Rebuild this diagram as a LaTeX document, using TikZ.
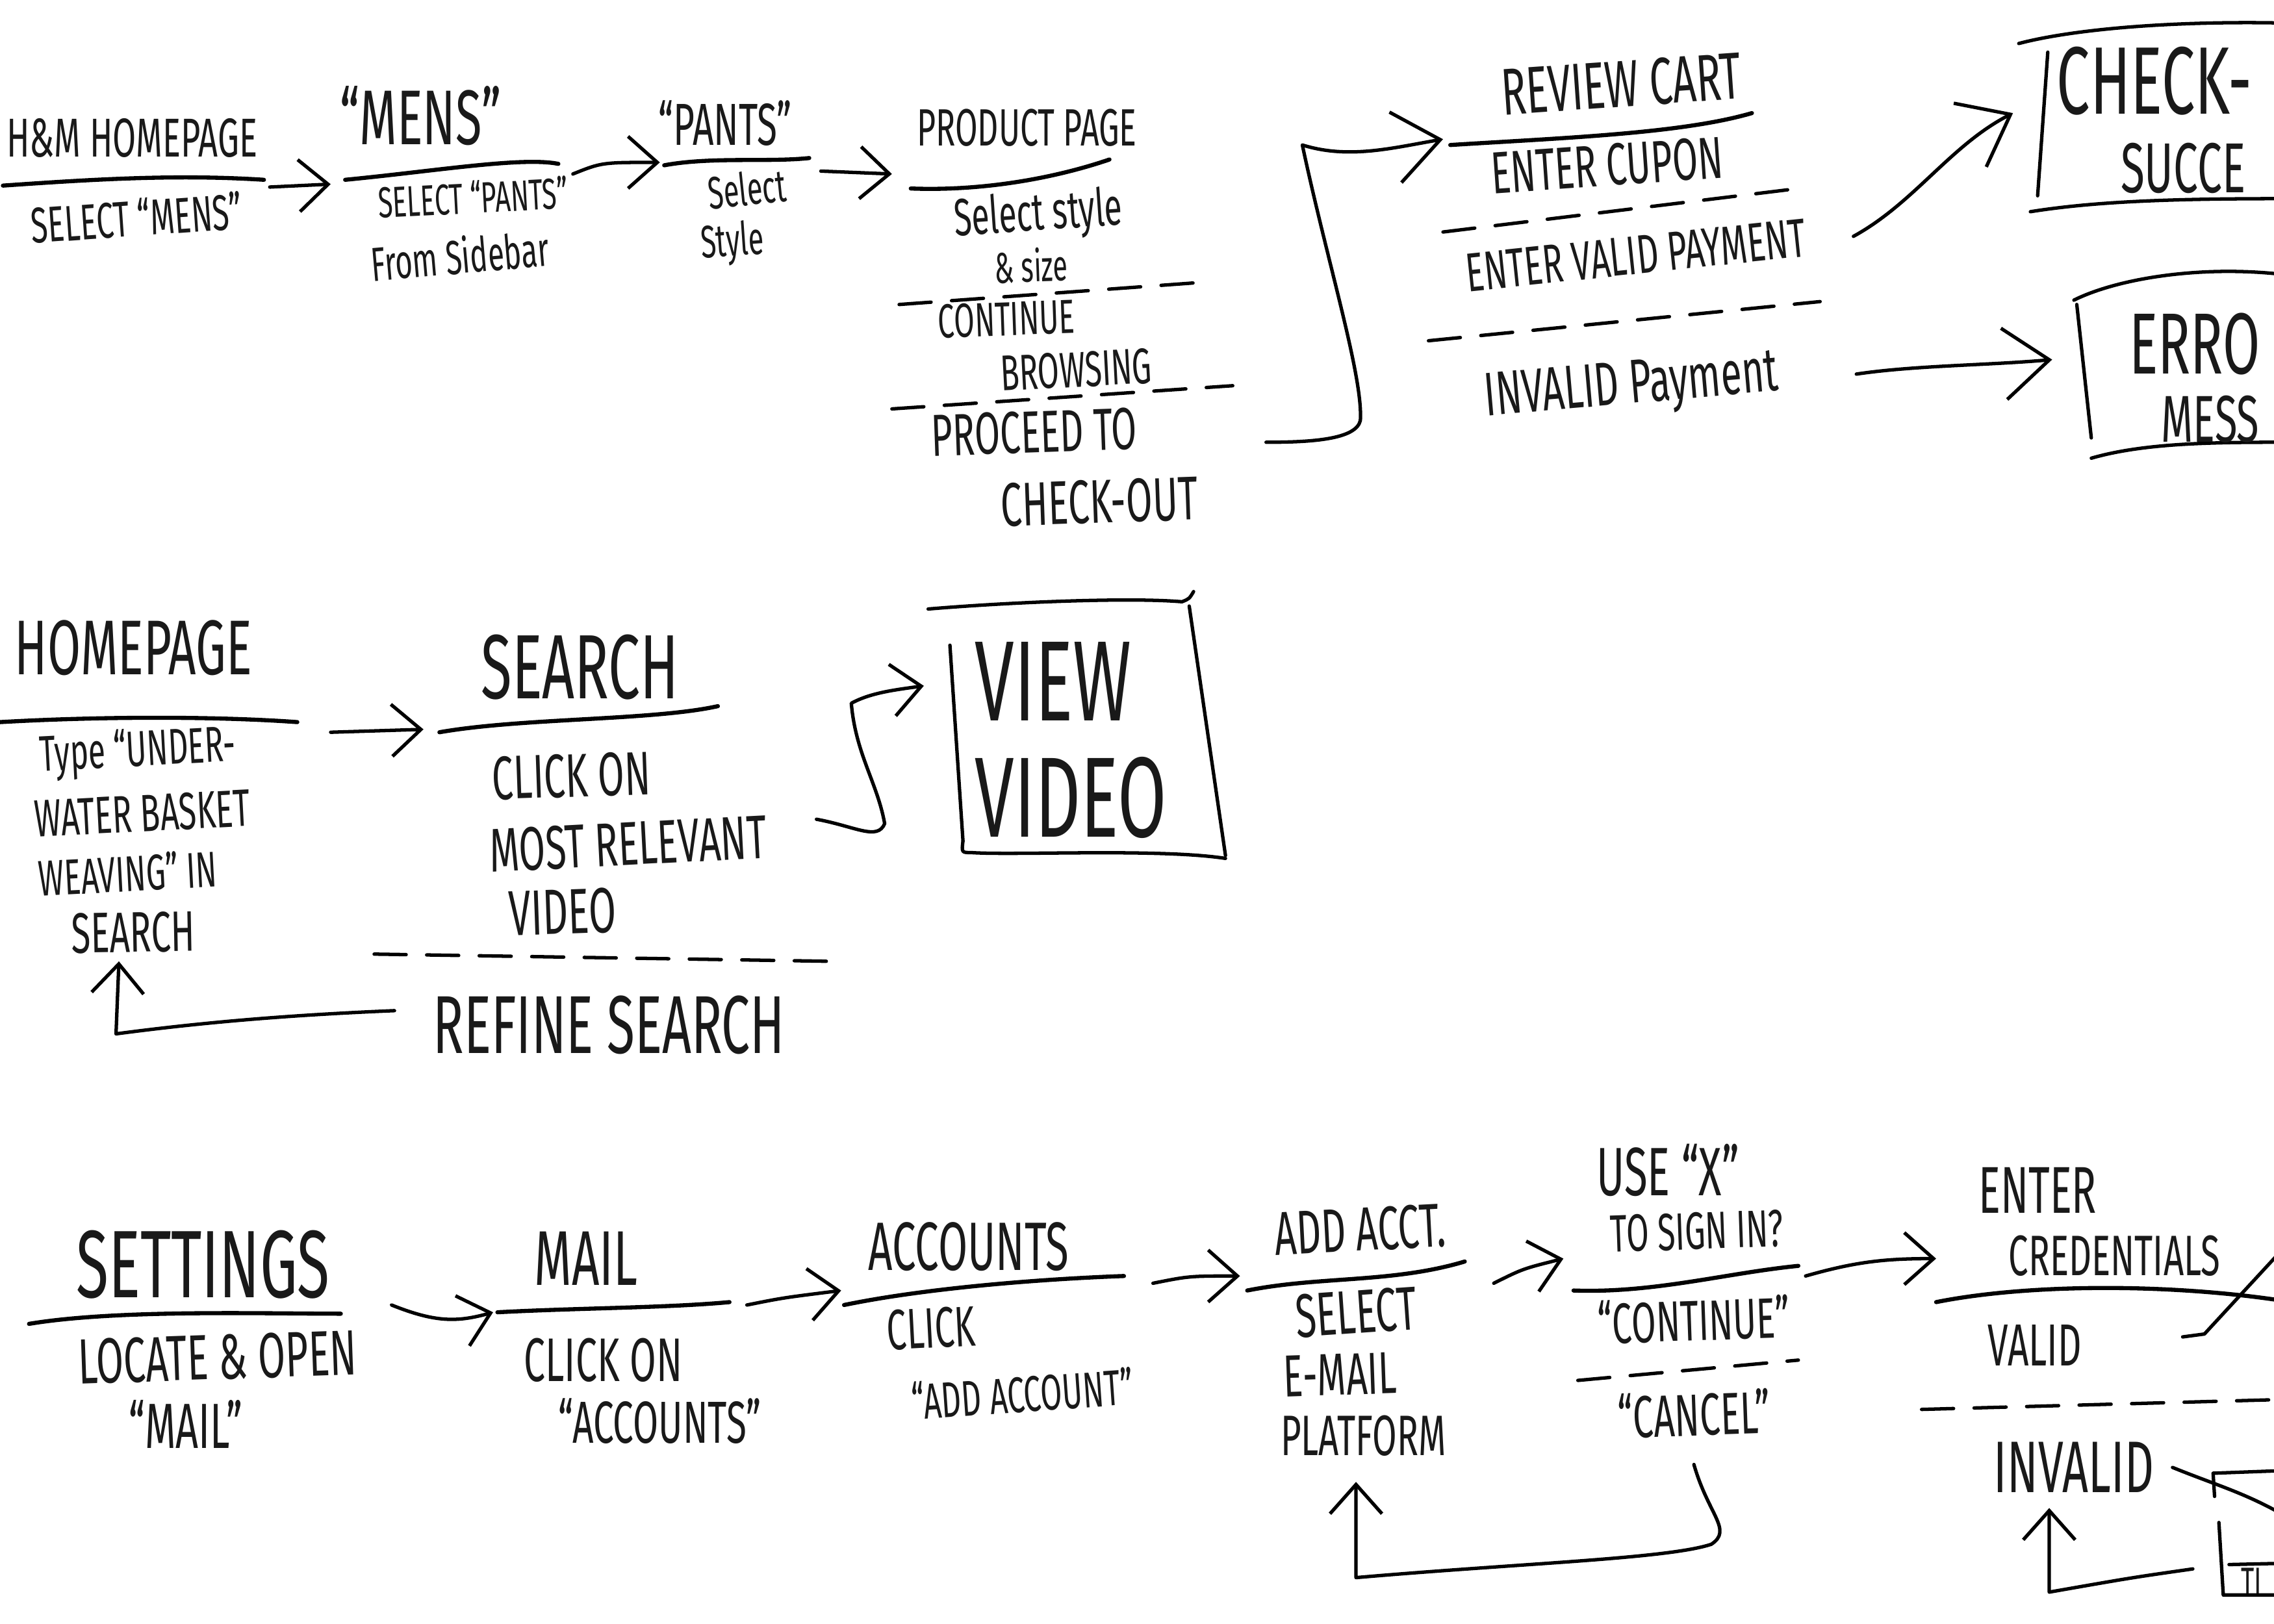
\documentclass[tikz,border=0pt]{standalone}
\usepackage{fontspec}
\setmainfont{Fira Sans}[FakeStretch=0.62]
\usetikzlibrary{arrows.meta}
\begin{document}
\begin{tikzpicture}[x=0.2232mm,y=-0.2232mm, line cap=round, line join=round,
  ink/.style={line width=1.5pt},
  uline/.style={line width=1.8pt},
  dline/.style={line width=1.5pt, dash pattern=on 14pt off 9pt},
  harr/.style={line width=1.5pt,-{Straight Barb[length=4.5mm,width=8mm]}},
  bigarr/.style={line width=1.5pt,-{Straight Barb[length=7mm,width=11mm]}},
  txt/.style={inner sep=0pt, text=black!90},
  fs/.style={font=\fontsize{#1}{#1}\selectfont}]
\useasboundingbox (0,0) rectangle (1568,1120);
\clip (0,0) rectangle (1568,1120);
\fill[white] (0,0) rectangle (1568,1120);

% ---------------- Row 1 ----------------
\node[txt,fs=24] (hm) at (91,95) {H\&M HOMEPAGE};
\draw[uline] (2,128) .. controls (60,124) and (120,120) .. (182,124);
\node[txt,fs=22,rotate=4] (hmb) at (94,150) {SELECT “MENS”};

\node[txt,fs=34] (mens) at (290,80) {“MENS”};
\draw[uline] (238,124) .. controls (300,118) and (360,108) .. (385,113);
\node[txt,fs=19,rotate=3] (mensb1) at (326,136) {SELECT “PANTS”};
\node[txt,fs=21,rotate=5] (mensb2) at (317,176) {From Sidebar};

\node[txt,fs=26] (pants) at (500,85) {“PANTS”};
\draw[uline] (458,114) .. controls (490,108) and (530,112) .. (558,109);
\node[txt,fs=20,rotate=6] (pantsb1) at (515,130) {Select};
\node[txt,fs=20,rotate=4] (pantsb2) at (505,168) {Style};

\node[txt,fs=23] (prod) at (708,88) {PRODUCT PAGE};
\draw[uline] (628,130) .. controls (680,132) and (730,122) .. (765,110);
\node[txt,fs=23,rotate=4] (prodb1) at (716,149) {Select style};
\node[txt,fs=19,rotate=2] (prodb2) at (711,183) {\& size};
\draw[dline] (620,210) -- (825,195);
\node[txt,fs=21,rotate=2] (cont1) at (694,220) {CONTINUE};
\node[txt,fs=22,rotate=3] (cont2) at (742,255) {BROWSING};
\draw[dline] (615,282) -- (850,266);
\node[txt,fs=26,rotate=2] (proc1) at (713,298) {PROCEED TO};
\node[txt,fs=27,rotate=2] (proc2) at (758,346) {CHECK-OUT};

\node[txt,fs=29,rotate=4] (cart) at (1118,58) {REVIEW CART};
\draw[uline] (1000,100) .. controls (1080,95) and (1160,92) .. (1208,78);
\node[txt,fs=26,rotate=4] (cupon) at (1108,114) {ENTER CUPON};
\draw[dline] (995,160) -- (1240,130);
\node[txt,fs=24,rotate=6] (valpay) at (1128,176) {ENTER VALID PAYMENT};
\draw[dline] (985,235) -- (1255,208);
\node[txt,fs=27,rotate=5] (invpay) at (1125,268) {INVALID Payment};

% success box
\draw[ink] (1392,30) .. controls (1430,20) and (1500,14) .. (1580,16);
\draw[ink] (1412,36) -- (1405,135);
\draw[ink] (1400,146) .. controls (1450,138) and (1510,137) .. (1580,137);
\node[txt,fs=42,anchor=west] (succ1) at (1418,56) {CHECK-};
\node[txt,fs=31,anchor=west] (succ2) at (1462,116) {SUCCE};
% error box
\draw[ink] (1430,207) .. controls (1460,192) and (1520,182) .. (1580,190);
\draw[ink] (1432,210) -- (1442,302);
\draw[ink] (1442,316) .. controls (1480,305) and (1530,305) .. (1580,305);
\node[txt,fs=38,anchor=west] (err1) at (1468,237) {ERRO};
\node[txt,fs=29,anchor=west] (err2) at (1490,289) {MESS};

% row 1 connectors
\coordinate (a1s) at (186,129); \coordinate (a1e) at (228,127);
\draw[harr] (a1s) -- (a1e);
\coordinate (a2s) at (395,120); \coordinate (a2e) at (455,112);
\draw[harr] (a2s) .. controls (415,112) .. (a2e);
\coordinate (a3s) at (566,118); \coordinate (a3e) at (615,120);
\draw[harr] (a3s) -- (a3e);
\coordinate (a4s) at (873,305); \coordinate (a4e) at (995,96);
\draw[bigarr] (a4s) .. controls (905,305) and (935,303) .. (938,290)
   .. controls (940,260) and (915,180) .. (898,100)
   .. controls (930,110) and (960,102) .. (a4e);
\coordinate (a5s) at (1278,163); \coordinate (a5e) at (1388,78);
\draw[bigarr] (a5s) .. controls (1320,140) and (1345,100) .. (a5e);
\coordinate (a6s) at (1280,258); \coordinate (a6e) at (1415,248);
\draw[bigarr] (a6s) .. controls (1320,252) and (1370,252) .. (a6e);

% ---------------- Row 2 ----------------
\node[txt,fs=34] (home) at (92,447) {HOMEPAGE};
\draw[uline] (0,498) .. controls (70,494) and (150,494) .. (205,498);
\node[txt,fs=22,rotate=3] (homeb1) at (95,519) {Type “UNDER-};
\node[txt,fs=23,rotate=3] (homeb2) at (98,561) {WATER BASKET};
\node[txt,fs=22,rotate=3] (homeb3) at (88,602) {WEAVING” IN};
\node[txt,fs=25,rotate=1] (homeb4) at (92,643) {SEARCH};

\node[txt,fs=40] (search) at (400,460) {SEARCH};
\draw[uline] (303,505) .. controls (360,495) and (450,497) .. (495,487);
\node[txt,fs=27,rotate=2] (srb1) at (394,535) {CLICK ON};
\node[txt,fs=27,rotate=3] (srb2) at (433,582) {MOST RELEVANT};
\node[txt,fs=28,rotate=2] (srb3) at (388,629) {VIDEO};
\draw[dline] (258,658) -- (575,663);
\node[txt,fs=36] (refine) at (420,707) {REFINE SEARCH};

% view video box
\draw[ink] (640,420) .. controls (700,415) and (780,412) .. (815,415) .. controls (820,413) .. (823,408);
\draw[ink] (820,418) -- (845,590);
\draw[ink] (845,592) .. controls (800,585) and (700,590) .. (670,588) .. controls (663,588) .. (664,580);
\draw[ink] (655,445) -- (664,580);
\node[txt,fs=50,anchor=west] (view1) at (672,470) {VIEW};
\node[txt,fs=50,anchor=west] (view2) at (672,550) {VIDEO};

% row 2 connectors
\coordinate (a7s) at (228,505); \coordinate (a7e) at (292,503);
\draw[harr] (a7s) -- (a7e);
\coordinate (a8s) at (563,565); \coordinate (a8e) at (637,473);
\draw[harr] (a8s) .. controls (590,570) and (605,580) .. (610,568)
   .. controls (605,540) and (590,520) .. (587,485)
   .. controls (600,478) and (615,476) .. (a8e);
\coordinate (a9s) at (272,697); \coordinate (a9e) at (82,663);
\draw[harr] (a9s) .. controls (200,700) and (140,705) .. (80,713) -- (a9e);

% ---------------- Row 3 ----------------
\node[txt,fs=42] (set) at (140,872) {SETTINGS};
\draw[uline] (20,913) .. controls (80,903) and (180,906) .. (235,906);
\node[txt,fs=28,rotate=2] (setb1) at (150,936) {LOCATE \& OPEN};
\node[txt,fs=28] (setb2) at (128,982) {“MAIL”};

\node[txt,fs=34] (mail) at (404,868) {MAIL};
\draw[uline] (343,905) .. controls (400,902) and (460,902) .. (503,898);
\node[txt,fs=27] (mailb1) at (416,938) {CLICK ON};
\node[txt,fs=26] (mailb2) at (455,980) {“ACCOUNTS”};

\node[txt,fs=30] (acc) at (668,860) {ACCOUNTS};
\draw[uline] (582,900) .. controls (640,888) and (720,882) .. (775,880);
\node[txt,fs=25,rotate=3] (accb1) at (642,916) {CLICK};
\node[txt,fs=22,rotate=4] (accb2) at (705,961) {“ADD ACCOUNT”};

\node[txt,fs=27,rotate=3] (add) at (938,848) {ADD ACCT.};
\draw[uline] (860,890) .. controls (910,880) and (960,885) .. (1010,870);
\node[txt,fs=27,rotate=4] (addb1) at (935,905) {SELECT};
\node[txt,fs=26,rotate=2] (addb2) at (924,948) {E-MAIL};
\node[txt,fs=25] (addb3) at (940,990) {PLATFORM};

\node[txt,fs=30] (use1) at (1150,807) {USE “X”};
\node[txt,fs=23,rotate=2] (use2) at (1170,849) {TO SIGN IN?};
\draw[uline] (1085,890) .. controls (1140,892) and (1190,878) .. (1240,873);
\node[txt,fs=25,rotate=2] (useb1) at (1168,910) {“CONTINUE”};
\draw[dline] (1088,952) -- (1240,938);
\node[txt,fs=26,rotate=2] (useb2) at (1168,975) {“CANCEL”};

\node[txt,fs=29] (cred1) at (1405,821) {ENTER};
\node[txt,fs=25] (cred2) at (1458,866) {CREDENTIALS};
\draw[uline] (1335,898) .. controls (1400,885) and (1500,885) .. (1580,898);
\node[txt,fs=26] (valid) at (1403,928) {VALID};
\draw[dline] (1325,972) -- (1580,965);
\node[txt,fs=32] (invalid) at (1430,1012) {INVALID};
\node[txt,fs=18,anchor=west] (ti) at (1545,1091) {TI};

% row 3 connectors
\coordinate (a10s) at (270,900); \coordinate (a10e) at (340,905);
\draw[harr] (a10s) .. controls (300,912) and (315,912) .. (a10e);
\coordinate (a11s) at (515,900); \coordinate (a11e) at (580,890);
\draw[harr] (a11s) .. controls (540,895) .. (a11e);
\coordinate (a12s) at (795,885); \coordinate (a12e) at (855,880);
\draw[harr] (a12s) .. controls (820,880) .. (a12e);
\coordinate (a13s) at (1030,885); \coordinate (a13e) at (1078,868);
\draw[harr] (a13s) .. controls (1050,875) .. (a13e);
\coordinate (a14s) at (1245,880); \coordinate (a14e) at (1335,868);
\draw[harr] (a14s) .. controls (1280,870) and (1300,868) .. (a14e);
\coordinate (a15s) at (1168,1010); \coordinate (a15e) at (935,1022);
\draw[harr] (a15s) .. controls (1178,1045) and (1195,1055) .. (1180,1065)
   .. controls (1150,1075) and (1050,1078) .. (935,1088) -- (a15e);
\coordinate (a16s) at (1512,1082); \coordinate (a16e) at (1413,1040);
\draw[harr] (a16s) .. controls (1470,1088) .. (1413,1098) -- (a16e);
\coordinate (vls) at (1505,922); \coordinate (vle) at (1580,855);
\draw[ink] (vls) -- (1520,920) -- (vle);
\coordinate (ils) at (1498,1012); \coordinate (ile) at (1580,1048);
\draw[ink] (ils) .. controls (1530,1025) and (1550,1030) .. (ile);
\draw[ink] (1527,1032) -- (1526,1016) -- (1580,1014);
\draw[ink] (1530,1050) -- (1533,1100) -- (1580,1100);
\draw[ink] (1537,1079) -- (1580,1078);
\end{tikzpicture}
\end{document}
